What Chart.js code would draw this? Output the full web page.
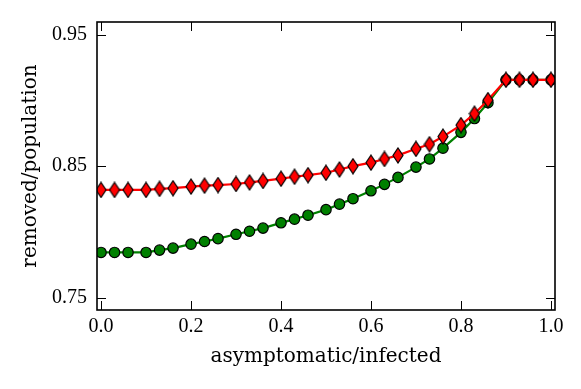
<!DOCTYPE html>
<html>
<head>
<meta charset="utf-8">
<script src="https://cdn.jsdelivr.net/npm/chart.js@4.4.1/dist/chart.umd.min.js"></script>
<style>
  html, body { margin: 0; padding: 0; background: #fff; }
  #wrap { width: 581px; height: 389px; }
</style>
</head>
<body>
<div id="wrap"><canvas id="chart"></canvas></div>
<script>
// asymptomatic fraction (x) and removed fraction for the two runs
const xs = [0, 0.03, 0.06, 0.1, 0.13, 0.16, 0.2, 0.23, 0.26, 0.3, 0.33, 0.36, 0.4, 0.43, 0.46,
  0.5, 0.53, 0.56, 0.6, 0.63, 0.66, 0.7, 0.73, 0.76, 0.8, 0.83, 0.86, 0.9, 0.93, 0.96, 1.0];
const redVals = [0.832, 0.832, 0.832, 0.832, 0.8328, 0.8333, 0.8345, 0.8352, 0.8357, 0.8365, 0.8377,
  0.8388, 0.8405, 0.842, 0.8432, 0.845, 0.8475, 0.850, 0.8527, 0.8555, 0.8582, 0.8632, 0.8667,
  0.8725, 0.8812, 0.8899, 0.9002, 0.9156, 0.9156, 0.9156, 0.9156];
const greenVals = [0.7845, 0.7845, 0.7845, 0.7845, 0.7863, 0.7878, 0.7908, 0.7928, 0.795, 0.7983,
  0.8006, 0.803, 0.807, 0.8098, 0.8128, 0.817, 0.8212, 0.8253, 0.8313, 0.8362, 0.8415, 0.8493,
  0.8555, 0.8637, 0.8757, 0.8862, 0.8982, 0.9156, 0.9156, 0.9156, 0.9156];
const xTicks = [0, 0.2, 0.4, 0.6, 0.8, 1.0];
const yTicks = [0.75, 0.85, 0.95];

// tall diamond marker (matplotlib 'd')
function diamond(w, h) {
  const c = document.createElement('canvas');
  c.width = w + 2; c.height = h + 2;
  const g = c.getContext('2d');
  g.beginPath();
  g.moveTo(c.width / 2, 1);
  g.lineTo(c.width - 1, c.height / 2);
  g.lineTo(c.width / 2, c.height - 1);
  g.lineTo(1, c.height / 2);
  g.closePath();
  g.fillStyle = '#ff0000';
  g.fill();
  g.lineWidth = 1.2;
  g.strokeStyle = '#000';
  g.stroke();
  return c;
}

// frame + inward ticks on all four sides
const frame = {
  id: 'frame',
  afterDraw(chart) {
    const { ctx, chartArea: a, scales: { x, y } } = chart;
    ctx.save();
    ctx.strokeStyle = '#000';
    ctx.lineWidth = 1;
    ctx.beginPath();
    x.ticks.forEach(t => {
      const p = Math.round(x.getPixelForValue(t.value)) + 0.5;
      ctx.moveTo(p, a.bottom); ctx.lineTo(p, a.bottom - 9);
      ctx.moveTo(p, a.top); ctx.lineTo(p, a.top + 9);
    });
    y.ticks.forEach(t => {
      const p = Math.round(y.getPixelForValue(t.value)) + 0.5;
      ctx.moveTo(a.left, p); ctx.lineTo(a.left + 9, p);
      ctx.moveTo(a.right, p); ctx.lineTo(a.right - 9, p);
    });
    ctx.stroke();
    ctx.lineWidth = 1.6;
    ctx.strokeRect(a.left, a.top, a.right - a.left, a.bottom - a.top);
    ctx.restore();
  }
};

const tickFont = { family: '"Liberation Serif", serif', size: 20 };
const titleFont = { family: '"DejaVu Serif", serif', size: 20, lineHeight: 1.2 };

new Chart(document.getElementById('chart'), {
  type: 'line',
  data: {
    datasets: [
      {
        data: xs.map((v, i) => ({ x: v, y: redVals[i] })),
        borderColor: '#ff0000',
        borderWidth: 2.2,
        pointStyle: diamond(10, 15),
        pointRadius: 6,
        order: 0
      },
      {
        data: xs.map((v, i) => ({ x: v, y: greenVals[i] })),
        borderColor: '#008000',
        borderWidth: 2.2,
        pointStyle: 'circle',
        pointRadius: 5.2,
        pointBackgroundColor: '#008000',
        pointBorderColor: '#000',
        pointBorderWidth: 1.2,
        order: 1
      }
    ]
  },
  options: {
    responsive: true,
    maintainAspectRatio: false,
    animation: false,
    layout: { padding: { top: 18, right: 26, left: 0, bottom: 0 } },
    plugins: { legend: { display: false }, tooltip: { enabled: false } },
    scales: {
      x: {
        type: 'linear',
        min: -0.009,
        max: 1.009,
        border: { display: false },
        grid: { display: false, drawTicks: false },
        afterBuildTicks: s => { s.ticks = xTicks.map(v => ({ value: v })); },
        afterFit: s => { s.height = 79; },
        ticks: {
          color: '#000',
          font: tickFont,
          padding: 5,
          maxRotation: 0,
          callback: v => v.toFixed(1)
        },
        title: {
          display: true,
          text: 'asymptomatic/infected',
          color: '#000',
          font: titleFont,
          padding: { top: 0, bottom: 20 }
        }
      },
      y: {
        min: 0.7408,
        max: 0.9595,
        border: { display: false },
        grid: { display: false, drawTicks: false },
        afterBuildTicks: s => { s.ticks = yTicks.map(v => ({ value: v })); },
        afterFit: s => { s.width = 97; },
        ticks: {
          color: '#000',
          font: tickFont,
          padding: 10,
          callback: v => v.toFixed(2)
        },
        title: {
          display: true,
          text: 'removed/population',
          color: '#000',
          font: titleFont,
          padding: { top: 19, bottom: 0 }
        }
      }
    }
  },
  plugins: [frame]
});
</script>
</body>
</html>
